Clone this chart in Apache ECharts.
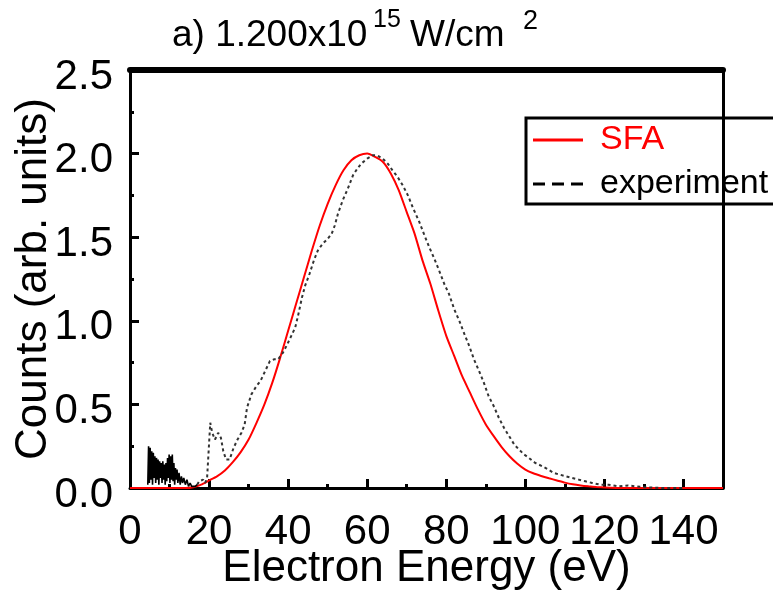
<!DOCTYPE html>
<html>
<head>
<meta charset="utf-8">
<script src="https://cdn.jsdelivr.net/npm/echarts@6/dist/echarts.min.js"></script>
<style>html,body{margin:0;padding:0;background:#fff}#c{width:773px;height:592px}</style>
</head>
<body>
<div id="c"></div>
<script>
// ---- data ----
const xTickValues = [0, 20, 40, 60, 80, 100, 120, 140];
const yTickValues = [0.0, 0.5, 1.0, 1.5, 2.0, 2.5];

const sfaEnergy = [0, 5, 10, 14, 16, 18, 20, 22, 24, 26, 28, 30, 32, 34, 36, 38, 40, 42, 44, 46, 48, 50, 52, 54, 56, 58, 60, 62, 64, 66, 68, 70, 72, 74, 76, 78, 80, 82, 84, 86, 88, 90, 92, 94, 96, 98, 100, 102, 104, 106, 108, 110, 112, 114, 116, 118, 120, 125, 135, 150];
const sfaCounts = [0, 0, 0, 0, 0.005, 0.02, 0.045, 0.07, 0.105, 0.155, 0.215, 0.29, 0.39, 0.5, 0.63, 0.78, 0.94, 1.1, 1.26, 1.42, 1.57, 1.7, 1.81, 1.9, 1.96, 1.99, 2.0, 1.98, 1.95, 1.88, 1.78, 1.65, 1.52, 1.36, 1.22, 1.06, 0.91, 0.79, 0.67, 0.57, 0.47, 0.38, 0.31, 0.245, 0.19, 0.145, 0.11, 0.088, 0.072, 0.058, 0.045, 0.032, 0.022, 0.015, 0.01, 0.006, 0.003, 0, 0, 0];

// experiment, noisy low-energy part (dense, appears solid)
const expLowEnergy = [4.5, 4.7, 4.9, 5.1, 5.3, 5.5, 5.7, 5.9, 6.1, 6.3, 6.5, 6.7, 6.9, 7.1, 7.3, 7.5, 7.7, 7.9, 8.1, 8.3, 8.5, 8.7, 8.9, 9.1, 9.3, 9.5, 9.7, 9.9, 10.1, 10.3, 10.5, 10.7, 10.9, 11.1, 11.3, 11.5, 11.7, 11.9, 12.1, 12.4, 12.7, 13.0, 13.3, 13.6, 14.0, 14.4, 14.8, 15.2, 15.6, 16.0, 16.5, 17.0];
const expLowCounts = [0.02, 0.25, 0.03, 0.24, 0.05, 0.22, 0.02, 0.21, 0.06, 0.19, 0.03, 0.18, 0.05, 0.17, 0.02, 0.16, 0.06, 0.15, 0.03, 0.16, 0.05, 0.14, 0.02, 0.15, 0.04, 0.18, 0.06, 0.2, 0.03, 0.19, 0.05, 0.2, 0.04, 0.15, 0.02, 0.12, 0.05, 0.11, 0.03, 0.09, 0.02, 0.07, 0.03, 0.06, 0.02, 0.05, 0.01, 0.03, 0.01, 0.02, 0.01, 0.02];
// experiment, main part (dashed)
const expEnergy = [17.0, 17.5, 18.0, 18.5, 19.0, 19.5, 20.0, 20.3, 20.8, 21.5, 22.3, 23.0, 23.6, 24.3, 25.2, 26.2, 27.2, 28.2, 29.0, 29.6, 30.7, 32.0, 33.0, 34.2, 35.4, 36.5, 37.5, 38.7, 39.8, 40.8, 41.8, 42.6, 43.5, 44.3, 45.4, 46.5, 47.5, 48.7, 50.0, 51.0, 51.8, 52.6, 53.8, 55.1, 56.4, 57.5, 58.5, 60.0, 61.4, 62.5, 63.9, 65.2, 66.4, 67.7, 69.0, 70.3, 71.5, 73.2, 74.5, 75.7, 77.0, 78.2, 79.5, 80.7, 82.0, 83.3, 84.6, 85.8, 87.0, 88.3, 89.5, 90.7, 92.0, 93.3, 94.6, 95.9, 97.2, 98.4, 99.7, 100.9, 102.5, 104.3, 105.8, 107.2, 108.7, 110.2, 111.8, 113.5, 115.2, 116.9, 119.0, 121.0, 123.5, 126.0, 128.0, 130.0, 135.0, 140.0];
const expCounts = [0.02, 0.04, 0.03, 0.05, 0.03, 0.06, 0.05, 0.39, 0.33, 0.29, 0.33, 0.3, 0.22, 0.17, 0.17, 0.24, 0.29, 0.33, 0.38, 0.48, 0.56, 0.61, 0.64, 0.7, 0.76, 0.77, 0.77, 0.81, 0.86, 0.91, 0.96, 1.04, 1.14, 1.21, 1.28, 1.36, 1.42, 1.46, 1.49, 1.52, 1.57, 1.64, 1.72, 1.79, 1.87, 1.91, 1.94, 1.97, 1.99, 1.99, 1.97, 1.94, 1.9, 1.86, 1.81, 1.75, 1.68, 1.59, 1.51, 1.44, 1.37, 1.3, 1.22, 1.16, 1.07, 1.0, 0.92, 0.85, 0.77, 0.7, 0.63, 0.55, 0.49, 0.42, 0.36, 0.31, 0.26, 0.23, 0.2, 0.18, 0.15, 0.13, 0.11, 0.09, 0.08, 0.07, 0.06, 0.05, 0.04, 0.03, 0.02, 0.02, 0.01, 0.015, 0.01, 0.005, 0, 0];

const seriesNames = ['SFA', 'experiment'];
const titleParts = ['a) 1.200x10', '15', 'W/cm', '2'];
const xName = 'Electron Energy (eV)';
const yName = 'Counts (arb. units)';

// ---- chart ----
const FONT = '"Liberation Sans", Arial, sans-serif';
const zip = (a, b) => a.map((v, i) => [v, b[i]]);
const chart = echarts.init(document.getElementById('c'), null, {renderer: 'canvas'});

const hidden = {show: false};
const blackLine = w => ({show: true, onZero: false, lineStyle: {color: '#000', width: w}});
chart.setOption({
  animation: false,
  backgroundColor: '#fff',
  grid: {left: 130, right: 50, top: 70, bottom: 104, containLabel: false, outerBoundsMode: 'none'},
  graphic: [
    {type: 'text', left: 172, top: 17, style: {text: titleParts[0], font: '37px ' + FONT, fill: '#000'}},
    {type: 'text', left: 373, top: 8, style: {text: titleParts[1], font: '25px ' + FONT, fill: '#000'}},
    {type: 'text', left: 410, top: 17, style: {text: titleParts[2], font: '37px ' + FONT, fill: '#000'}},
    {type: 'text', left: 523, top: 8, style: {text: titleParts[3], font: '27px ' + FONT, fill: '#000'}}
  ],
  legend: {
    orient: 'vertical', left: 526, top: 118,
    itemWidth: 50, itemHeight: 3, itemGap: 8,
    padding: [4, 40, 2, 7],
    borderColor: '#000', borderWidth: 3, borderRadius: 0,
    textStyle: {fontSize: 34, fontFamily: FONT, lineHeight: 36, padding: [0, 0, 0, 12]},
    data: [
      {name: seriesNames[0], icon: 'rect', itemStyle: {color: '#ff0000'}, textStyle: {color: '#ff0000'}},
      {name: seriesNames[1], icon: 'path://M0,0h12v3h-12z M19,0h12v3h-12z M38,0h12v3h-12z', itemStyle: {color: '#000'}, textStyle: {color: '#000'}}
    ]
  },
  xAxis: [
    {
      type: 'value', min: 0, max: 150, interval: 20, position: 'bottom',
      name: xName, nameLocation: 'middle', nameGap: 59, nameMoveOverlap: false,
      nameTextStyle: {fontSize: 44, fontFamily: FONT, color: '#000'},
      axisLine: blackLine(3),
      axisTick: {show: true, inside: true, length: 9, lineStyle: {color: '#000', width: 3}},
      axisLabel: {fontSize: 42, fontFamily: FONT, color: '#000', margin: 23,
        formatter: v => (xTickValues.indexOf(v) >= 0 ? String(v) : '')},
      splitLine: hidden
    },
    {
      type: 'value', min: 0, max: 150, interval: 10, position: 'bottom',
      axisLine: {show: false, onZero: false},
      axisTick: {show: true, inside: true, length: 4, lineStyle: {color: '#000', width: 3}},
      axisLabel: hidden, splitLine: hidden
    },
    {
      type: 'value', min: 0, max: 150, position: 'top',
      axisLine: blackLine(6),
      axisTick: hidden, axisLabel: hidden, splitLine: hidden
    }
  ],
  yAxis: [
    {
      type: 'value', min: 0, max: 2.5, interval: 0.5, position: 'left',
      name: yName, nameLocation: 'middle', nameGap: 74, nameRotate: 90, nameMoveOverlap: false,
      nameTextStyle: {fontSize: 44, fontFamily: FONT, color: '#000'},
      axisLine: blackLine(3),
      axisTick: {show: true, inside: true, length: 9, lineStyle: {color: '#000', width: 3}},
      minorTick: {show: true, splitNumber: 2, length: 4, lineStyle: {color: '#000', width: 3}},
      axisLabel: {fontSize: 42, fontFamily: FONT, color: '#000', margin: 17,
        verticalAlign: 'top', lineHeight: 14,
        formatter: v => (yTickValues.indexOf(v) >= 0 ? v.toFixed(1) : '')},
      splitLine: hidden, minorSplitLine: hidden
    },
    {
      type: 'value', min: 0, max: 2.5, position: 'right',
      axisLine: blackLine(3),
      axisTick: hidden, axisLabel: hidden, splitLine: hidden
    }
  ],
  series: [
    {
      name: seriesNames[0], type: 'line', xAxisIndex: 0, yAxisIndex: 0,
      data: zip(sfaEnergy, sfaCounts), symbol: 'none', smooth: 0.2, clip: false,
      lineStyle: {color: '#ff0000', width: 2}, itemStyle: {color: '#ff0000'}, z: 3
    },
    {
      name: seriesNames[1], type: 'line', xAxisIndex: 0, yAxisIndex: 0,
      data: zip(expLowEnergy, expLowCounts), symbol: 'none', clip: false,
      lineStyle: {color: '#000', width: 1.6}, itemStyle: {color: '#000'}, z: 4
    },
    {
      name: seriesNames[1], type: 'line', xAxisIndex: 0, yAxisIndex: 0,
      data: zip(expEnergy, expCounts), symbol: 'none', clip: false,
      lineStyle: {color: '#333', width: 2, type: [3, 3]}, itemStyle: {color: '#000'}, z: 4
    }
  ]
});
</script>
</body>
</html>
